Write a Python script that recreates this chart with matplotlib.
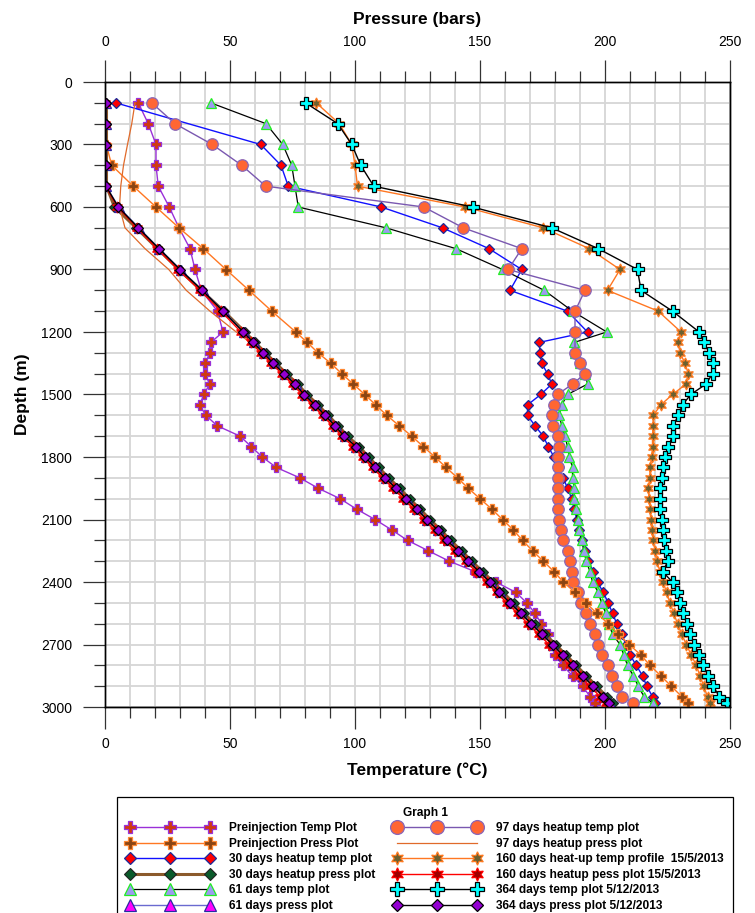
import numpy as np
import matplotlib.pyplot as plt
from matplotlib.ticker import MultipleLocator

plt.rcParams['font.family'] = ['Liberation Sans', 'DejaVu Sans']

# survey stations (m)
depth_upper = [100, 200, 300, 400, 500, 600, 700, 800, 900, 1000, 1100]
depth_lower = [1200, 1250, 1300, 1350, 1400, 1450, 1500, 1550, 1600, 1650,
               1700, 1750, 1800, 1850, 1900, 1950, 2000, 2050, 2100, 2150,
               2200, 2250, 2300, 2350, 2400, 2450, 2500, 2550, 2600, 2650,
               2700, 2750, 2800, 2850, 2900, 2950, 2980]

# temperature profiles (deg C)
preinj_temp = [13.3, 17.3, 20.4, 20.4, 21.3, 25.7, 29.6, 34.0, 36.0, 38.5, 45.0,
               47.2, 42.3, 42.0, 40.0, 39.9, 41.9, 39.5, 37.9, 40.3, 44.9,
               54.0, 58.5, 62.9, 68.5, 77.9, 85.3, 94.0, 100.6, 108.0, 114.7,
               121.0, 129.3, 137.7, 148.0, 156.3, 164.4, 168.7, 172.0, 174.5, 177.0,
               178.5, 180.0, 183.0, 187.0, 191.0, 194.0, 196.0]
temp_30d = [4.3, 62.3, 70.4, 73.3, 110.5, 135.0, 153.6, 166.7, 162.0, 185.0,
            193.0, 173.7, 174.0, 174.7, 177.0, 178.7, 174.3, 169.0, 169.0, 172.0,
            175.3, 177.3, 179.6, 181.5, 183.3, 185.0, 186.7, 187.7, 188.7, 189.7,
            190.7, 192.0, 193.3, 195.3, 197.0, 199.3, 201.3, 203.0, 204.7, 206.6,
            208.4, 210.0, 212.5, 215.0, 216.7, 219.0, 220.0]
temp_61d = [42.3, 64.4, 71.1, 74.7, 76.0, 77.3, 112.4, 140.4, 159.0, 175.7, 187.0,
            200.7, 187.7, 188.0, 190.0, 192.0, 193.0, 185.0, 182.7, 181.7, 182.7,
            184.0, 185.0, 185.7, 187.0, 187.0, 187.7, 187.7, 188.3, 189.0, 189.7,
            190.7, 191.5, 192.5, 194.0, 195.0, 197.3, 198.6, 200.3, 201.5, 203.0,
            206.0, 207.5, 209.0, 211.3, 213.3, 215.6, 219.0]
temp_97d = [18.7, 28.0, 42.9, 54.7, 64.3, 127.5, 143.3, 166.7, 161.3, 192.0, 188.0,
            188.0, 188.0, 190.0, 192.0, 187.0, 181.0, 179.6, 178.7, 179.0,
            181.0, 181.6, 181.3, 181.3, 181.0, 181.0, 181.3, 181.3, 181.6, 182.3,
            183.3, 185.0, 186.0, 186.7, 187.3, 189.0, 190.3, 192.4, 194.0, 196.0,
            197.3, 198.7, 201.3, 202.7, 204.7, 206.7, 211.3]
temp_160d = [84.5, 93.7, 98.7, 100.0, 101.0, 144.0, 175.3, 193.7, 206.0, 201.0, 221.3,
             230.4, 229.3, 230.0, 232.0, 233.3, 232.4, 227.0, 222.3, 219.3, 219.3,
             219.0, 219.0, 218.7, 218.0, 218.0, 217.3, 217.7, 218.0, 218.3, 218.7,
             219.3, 220.0, 220.7, 222.0, 223.3, 224.6, 226.0, 227.5, 229.0, 230.7,
             232.5, 234.5, 236.5, 238.0, 239.5, 241.0, 242.0]
temp_364d = [80.2, 93.1, 98.7, 102.3, 107.5, 147.0, 178.7, 197.3, 213.0, 214.4, 227.0,
             237.7, 239.6, 241.7, 243.0, 243.0, 240.4, 234.3, 231.0, 229.3, 227.3,
             227.0, 225.3, 224.0, 223.3, 222.7, 222.0, 222.0, 222.0, 222.7, 223.0,
             223.5, 224.4, 225.2, 223.0, 227.0, 228.7, 230.0, 231.3, 232.7, 234.0,
             235.6, 237.7, 239.3, 241.3, 243.3, 245.7, 248.7]

# pressure profiles (bars)
preinj_press = [0.5, 2.7, 11.3, 20.4, 29.6, 39.3, 48.4, 57.6, 66.7,
                76.3, 80.9, 85.2, 90.3, 94.7, 99.3, 103.9, 108.3, 112.7, 117.7,
                122.7, 127.3, 132.0, 136.4, 141.0, 145.3, 150.0, 154.7, 159.0, 163.3,
                167.0, 171.0, 175.3, 179.6, 183.3, 188.0, 192.4, 196.7, 201.3, 205.3,
                209.7, 214.3, 218.0, 222.3, 226.5, 230.7, 233.3]
press_30d = [0.6, 0.6, 0.6, 0.6, 0.6, 3.8, 12.5, 21.0, 29.5, 38.5, 47.5,
             56.0, 60.0, 64.2, 68.3, 72.6, 77.0, 80.8, 85.2, 89.2, 93.3,
             97.0, 101.7, 105.4, 109.4, 113.5, 117.8, 121.8, 126.0, 130.0, 134.3,
             138.2, 142.6, 146.7, 151.0, 155.3, 159.2, 163.4, 167.6, 171.8, 176.0,
             180.2, 184.4, 188.4, 192.5, 196.6, 200.7, 203.2]
press_61d = [0.4, 0.4, 0.4, 0.4, 0.4, 5.5, 13.5, 21.7, 30.2, 39.0, 47.4,
             55.5, 59.6, 63.6, 67.6, 71.9, 76.2, 80.0, 84.3, 88.3, 92.3,
             96.0, 100.5, 104.3, 108.3, 112.3, 116.6, 120.6, 124.9, 128.9, 133.2,
             137.0, 141.5, 145.6, 149.9, 154.2, 158.0, 162.2, 166.5, 170.7, 174.9,
             179.2, 183.2, 187.2, 191.2, 195.5, 199.5, 201.9]
press_97d = [12.0, 10.7, 9.0, 7.4, 6.3, 5.8, 8.0, 16.0, 25.5, 32.5, 42.0,
             52.5, 58.0, 62.5, 67.0, 71.3, 75.6, 79.3, 83.6, 87.6, 91.6,
             95.3, 100.0, 103.7, 107.6, 111.7, 116.0, 120.0, 124.3, 128.4, 132.6,
             136.4, 140.9, 145.0, 149.3, 153.6, 157.4, 161.6, 166.0, 170.2, 174.4,
             178.7, 182.7, 186.6, 190.7, 195.0, 199.0, 201.4]
press_160d = [0.2, 0.2, 0.2, 0.2, 0.2, 5.0, 12.8, 20.8, 29.2, 38.0, 46.4,
              54.4, 58.5, 62.4, 66.5, 70.7, 75.0, 78.8, 83.0, 87.0, 91.0,
              94.8, 99.3, 103.0, 107.0, 111.0, 115.3, 119.3, 123.5, 127.6, 131.8,
              135.7, 140.0, 144.2, 148.4, 152.7, 156.6, 160.8, 165.0, 169.2, 173.4,
              177.6, 181.8, 185.8, 189.8, 194.0, 198.0, 200.5]
press_364d = [0.4, 0.4, 0.4, 0.4, 0.4, 5.3, 13.3, 21.6, 30.0, 38.9, 47.3,
              55.3, 59.3, 63.3, 67.3, 71.6, 76.0, 79.6, 84.0, 88.0, 92.0,
              95.6, 100.4, 104.0, 108.0, 112.0, 116.4, 120.4, 124.7, 128.7, 133.0,
              136.7, 141.3, 145.3, 149.6, 154.0, 157.7, 162.0, 166.3, 170.5, 174.7,
              179.0, 183.0, 187.0, 191.0, 195.3, 199.3, 201.7]

depth_full = depth_upper + depth_lower
depth_preinj_press = depth_upper[2:] + depth_lower
depth_30d_temp = depth_upper[:1] + depth_upper[2:] + depth_lower
depth_97d_temp = depth_upper + depth_lower[:1] + depth_lower[2:]

star6 = (6, 1, 0)

fig = plt.figure(figsize=(7.55, 9.13), dpi=100)
ax = fig.add_axes([105 / 755, 1 - 707 / 913, 625 / 755, 625 / 913])
ax2 = ax.twiny()

# temperature on bottom axis, pressure on top axis
l1, = ax.plot(preinj_temp, depth_full, color='#9a30d8', lw=1, marker='P', ms=7.5,
              mfc='#d03a10', mec='#9a30d8', mew=0.9, label='Preinjection Temp Plot')
l3, = ax.plot(temp_30d, depth_30d_temp, color='#1010ff', lw=1, marker='D', ms=5.5,
              mfc='#ff0000', mec='#1a2a9a', mew=0.9, label='30 days heatup temp plot')
l5, = ax.plot(temp_61d, depth_full, color='black', lw=0.9, marker='^', ms=7,
              mfc='#9c9cf0', mec='#22ee22', mew=0.9, label='61 days temp plot')
l7, = ax.plot(temp_97d, depth_97d_temp, color='#7a58b0', lw=1, marker='o', ms=8.3,
              mfc='#ff6633', mec='#8a66b8', mew=0.9, label='97 days heatup temp plot')
l9, = ax.plot(temp_160d, depth_full, color='#ff7722', lw=1, marker=star6, ms=8,
              mfc='#6b6030', mec='#ff7a20', mew=0.9,
              label='160 days heat-up temp profile  15/5/2013')
l11, = ax.plot(temp_364d, depth_full, color='black', lw=1, marker='P', ms=8,
               mfc='#00ffff', mec='black', mew=0.9, label='364 days temp plot 5/12/2013')

l2, = ax2.plot(preinj_press, depth_preinj_press, color='#ff7722', lw=1, marker='P', ms=7.5,
               mfc='#8b4513', mec='#ff8833', mew=0.9, label='Preinjection Press Plot')
l4, = ax2.plot(press_30d, depth_full, color='#8b5a2b', lw=2.2, marker='D', ms=5.5,
               mfc='#0a5a2a', mec='#222222', mew=0.8, label='30 days heatup press plot')
l6, = ax2.plot(press_61d, depth_full, color='#6a6ad0', lw=1, marker='^', ms=7,
               mfc='#ff00ff', mec='#2a2aa0', mew=0.9, label='61 days press plot')
l8, = ax2.plot(press_97d, depth_full, color='#e06a2a', lw=0.9, label='97 days heatup press plot')
l10, = ax2.plot(press_160d, depth_full, color='#ff0000', lw=1, marker=star6, ms=8,
                mfc='#a00000', mec='#ff0000', mew=0.9, label='160 days heatup pess plot 15/5/2013')
l12, = ax2.plot(press_364d, depth_full, color='black', lw=1, marker='D', ms=5.5,
                mfc='#9400d3', mec='black', mew=0.9, label='364 days press plot 5/12/2013')

ax.set_xlim(0, 250)
ax.set_ylim(3000, 0)
ax2.set_xlim(0, 250)

ax.xaxis.set_major_locator(MultipleLocator(50))
ax.xaxis.set_minor_locator(MultipleLocator(10))
ax.yaxis.set_major_locator(MultipleLocator(300))
ax.yaxis.set_minor_locator(MultipleLocator(100))
ax2.xaxis.set_major_locator(MultipleLocator(50))
ax2.xaxis.set_minor_locator(MultipleLocator(10))

ax.grid(which='both', color='#d6d6d6', lw=1.3)
ax.set_axisbelow(True)

ax.tick_params(axis='x', which='major', length=15.5, width=0.9, pad=6, labelsize=10, color='#333333')
ax.tick_params(axis='x', which='minor', length=8, width=0.9, color='#333333')
ax.tick_params(axis='y', which='major', length=15.5, width=0.9, pad=8, labelsize=10, color='#333333')
ax.tick_params(axis='y', which='minor', length=8, width=0.9, color='#333333')
ax2.tick_params(axis='x', which='major', length=15.5, width=0.9, pad=8, labelsize=10, color='#333333')
ax2.tick_params(axis='x', which='minor', length=8, width=0.9, color='#333333')

for a in (ax, ax2):
    for s in a.spines.values():
        s.set_linewidth(1.0)

ax.set_xlabel('Temperature (°C)', fontsize=12.5, fontweight='bold', labelpad=8)
ax2.set_xlabel('Pressure (bars)', fontsize=12.5, fontweight='bold', labelpad=8)
ax.set_ylabel('Depth (m)', fontsize=12.5, fontweight='bold', labelpad=8)

handles = [l1, l2, l3, l4, l5, l6, l7, l8, l9, l10, l11, l12]
leg = fig.legend(handles, [h.get_label() for h in handles], loc='upper left',
                 bbox_to_anchor=(117 / 755, 1 - 797 / 913), borderaxespad=0,
                 ncol=2, numpoints=3, markerscale=1.2,
                 handlelength=7.3, handletextpad=1.3, columnspacing=1.5,
                 labelspacing=0.3, borderpad=0.8, title='Graph 1',
                 title_fontproperties={'weight': 'bold', 'size': 8.6},
                 prop={'weight': 'bold', 'size': 8.6}, fancybox=False,
                 edgecolor='black', framealpha=1)
leg.get_frame().set_linewidth(0.9)

fig.savefig('out.png', dpi=100)
